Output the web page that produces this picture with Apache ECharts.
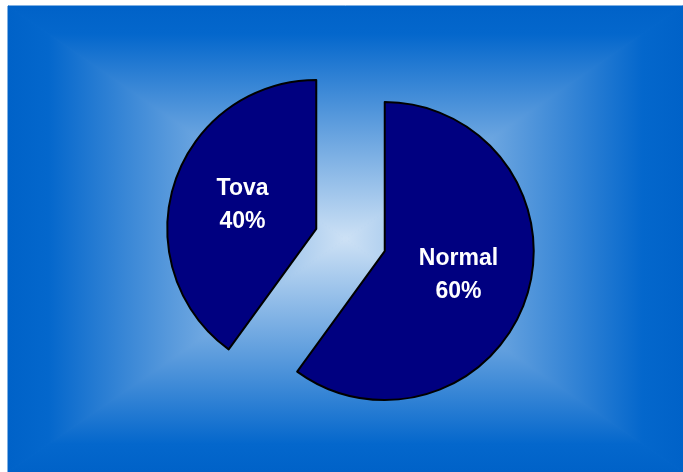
<!DOCTYPE html>
<html>
<head>
<meta charset="utf-8">
<script src="https://cdn.jsdelivr.net/npm/echarts@6/dist/echarts.min.js"></script>
<style>
html,body{margin:0;padding:0;background:#fff;}
#chart{width:683px;height:472px;}
</style>
</head>
<body>
<div id="chart"></div>
<script>
const categories = ['Normal', 'Tova'];
const values = [60, 40];

const chart = echarts.init(document.getElementById('chart'), null, {renderer: 'canvas'});

const L = 8, T = 6, R = 683, B = 472;
const CX = (L + R) / 2, CY = (T + B) / 2;
function grad(x, y, x2, y2) {
  return {type: 'linear', x: x, y: y, x2: x2, y2: y2, global: true,
    colorStops: [
      {offset: 0, color: '#0062C8'},
      {offset: 0.12, color: '#0467CC'},
      {offset: 0.5, color: '#5C9CDD'},
      {offset: 1, color: '#CDE1F5'}
    ]};
}
function tri(points, g) {
  return {type: 'polygon', silent: true, z: -10,
    shape: {points: points},
    style: {fill: g, stroke: g, lineWidth: 1}};
}
const bg = [
  {type: 'rect', silent: true, z: -11, shape: {x: L, y: T, width: R - L, height: B - T}, style: {fill: '#3f8ad6'}},
  tri([[L, T], [R, T], [CX, CY]], grad(0, T, 0, CY)),
  tri([[L, B], [R, B], [CX, CY]], grad(0, B, 0, CY)),
  tri([[L, T], [L, B], [CX, CY]], grad(L, 0, CX, 0)),
  tri([[R, T], [R, B], [CX, CY]], grad(R, 0, CX, 0))
];

chart.setOption({
  animation: false,
  graphic: bg,
  series: [{
    type: 'pie',
    center: [350.5, 240],
    radius: 149,
    startAngle: 90,
    clockwise: true,
    selectedMode: 'multiple',
    selectedOffset: 36,
    emphasis: {scale: false},
    itemStyle: {color: '#000080', borderColor: '#000', borderWidth: 2},
    label: {
      position: 'inside',
      formatter: '{b}\n{d}%',
      color: '#fff',
      fontFamily: 'Liberation Sans, Arial, sans-serif',
      fontWeight: 'bold',
      fontSize: 23,
      lineHeight: 33
    },
    labelLine: {show: false},
    data: categories.map((c, i) => ({name: c, value: values[i], selected: true}))
  }]
});
</script>
</body>
</html>
